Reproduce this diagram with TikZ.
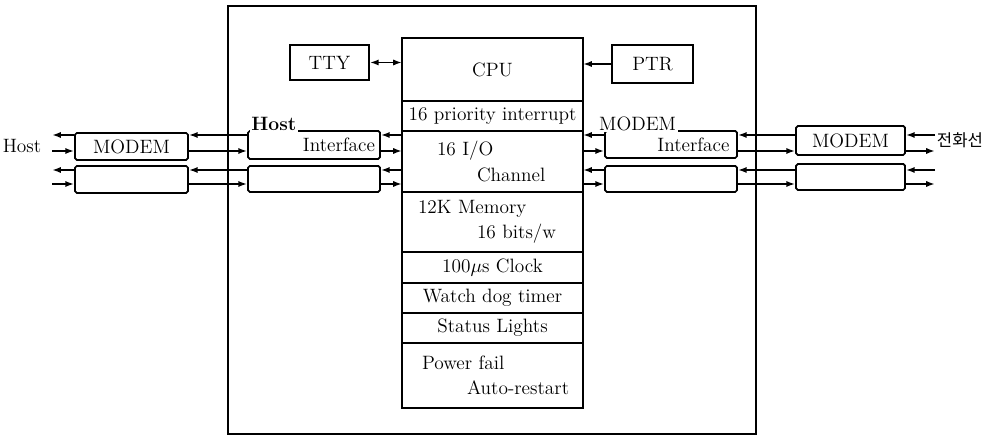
\documentclass[tikz,border=0pt]{standalone}
\usepackage{fontspec}
\newfontfamily\kofont{Noto Sans CJK KR}
\usetikzlibrary{positioning,arrows.meta}
\tikzset{
box/.style={draw, line width=1pt, rounded corners=1pt, inner sep=0pt, font=\fontsize{11}{13}\selectfont},
unit/.style={draw, line width=1pt, outer sep=0pt, minimum width=3.62cm, inner xsep=0.1cm, inner ysep=0pt, font=\fontsize{11}{14.5}\selectfont},
twoline/.style={text width=3.42cm, align=left},
tag/.style={fill=white, inner sep=1pt, font=\fontsize{11}{13}\selectfont},
link/.style={line width=1pt}
}

\begin{document}
\begin{tikzpicture}[>={Latex[length=5pt,width=3.5pt]}]
  \useasboundingbox (0,0) rectangle (19.92,8.7);
  % outer frame
  \draw[line width=1pt] (4.56,0.02) rectangle (15.12,8.58);

  % processor column
  \node[unit, minimum height=1.26cm] (cpu) at (9.85,7.31) {CPU};
  \node[unit, minimum height=0.6cm, below=0pt of cpu] (prio) {16 priority interrupt};
  \node[unit, twoline, minimum height=1.22cm, below=0pt of prio] (chan) {\hspace*{0.6cm}16 I/O\\\hspace*{1.4cm}Channel};
  \node[unit, twoline, minimum height=1.2cm, below=0pt of chan] (mem) {\hspace*{0.22cm}12K Memory\\\hspace*{1.4cm}16 bits/w};
  \node[unit, minimum height=0.62cm, below=0pt of mem] (clock) {100$\mu$s Clock};
  \node[unit, minimum height=0.6cm, below=0pt of clock] (wdog) {Watch dog timer};
  \node[unit, minimum height=0.6cm, below=0pt of wdog] (lights) {Status Lights};
  \node[unit, twoline, minimum height=1.3cm, below=0pt of lights] (power) {\hspace*{0.3cm}Power fail\\\hspace*{1.2cm}Auto-restart};

  % peripherals
  \node[box, rounded corners=0pt, minimum width=1.58cm, minimum height=0.7cm] (tty) at (6.59,7.45) {TTY};
  \node[box, rounded corners=0pt, minimum width=1.62cm, minimum height=0.76cm] (ptr) at (13.05,7.42) {PTR};
  \draw[link,<->] (tty.east) -- (tty.east -| cpu.west);
  \draw[link,->] (ptr.west) -- (ptr.west -| cpu.east);

  % line boxes
  \node[box, minimum width=2.26cm, minimum height=0.54cm] (mdmL1) at (2.63,5.77) {MODEM};
  \node[box, minimum width=2.26cm, minimum height=0.54cm] (mdmL2) at (2.63,5.11) {};
  \node[box, minimum width=2.64cm, minimum height=0.56cm, text width=2.44cm, align=right] (hifL1) at (6.28,5.8) {Interface};
  \node[box, minimum width=2.64cm, minimum height=0.52cm] (hifL2) at (6.28,5.12) {};
  \node[box, minimum width=2.64cm, minimum height=0.54cm, text width=2.34cm, align=right] (mifR1) at (13.42,5.81) {Interface};
  \node[box, minimum width=2.64cm, minimum height=0.52cm] (mifR2) at (13.42,5.12) {};
  \node[box, minimum width=2.18cm, minimum height=0.58cm] (mdmR1) at (17.01,5.89) {MODEM};
  \node[box, minimum width=2.18cm, minimum height=0.52cm] (mdmR2) at (17.01,5.16) {};
  \node[tag, anchor=base west, font=\fontsize{11}{13}\selectfont\bfseries] (hostTag) at ([xshift=0.045cm]hifL1.north west) {Host};
  \node[tag, anchor=base west] (modemTag) at ([xshift=-0.14cm]mifR1.north west) {MODEM};

  \node[font=\fontsize{11}{13}\selectfont] (host) at (0.44,5.78) {Host};
  \node[font=\kofont\fontsize{9.5}{11}\selectfont] (phone) at (19.2,5.9) {전화선};

  % signal lines
  \coordinate (top1) at (0,6.0);
  \coordinate (bot1) at (0,5.68);
  \coordinate (top2) at (0,5.3);
  \coordinate (bot2) at (0,5.02);
  \coordinate (lend) at (1.04,0);
  \coordinate (rend) at (18.7,0);
  \foreach \a/\b/\r in {mdmL1/hifL1/1, hifL1/chan/1, chan/mifR1/1, mifR1/mdmR1/1,
                        mdmL2/hifL2/2, hifL2/chan/2, chan/mifR2/2, mifR2/mdmR2/2}{
    \draw[link,<-] (\a.east |- top\r) -- (\b.west |- top\r);
    \draw[link,->] (\a.east |- bot\r) -- (\b.west |- bot\r);
  }
  \foreach \r in {1,2}{
    \draw[link,->] (mdmL\r.west |- top\r) -- (lend |- top\r);
    \draw[link,->] (lend |- bot\r) -- (mdmL\r.west |- bot\r);
    \draw[link,->] (rend |- top\r) -- (mdmR\r.east |- top\r);
    \draw[link,->] (mdmR\r.east |- bot\r) -- (rend |- bot\r);
  }
\end{tikzpicture}
\end{document}
